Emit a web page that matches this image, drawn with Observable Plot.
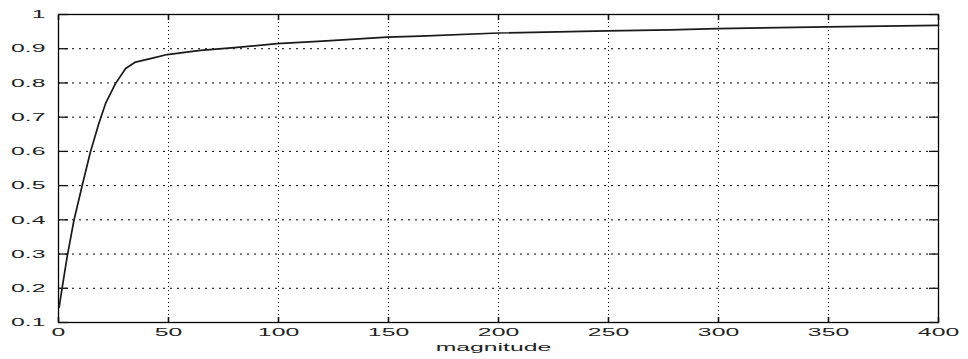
<!DOCTYPE html>
<html>
<head>
<meta charset="utf-8">
<script src="https://cdn.jsdelivr.net/npm/d3@7"></script>
<script src="https://cdn.jsdelivr.net/npm/@observablehq/plot@0.6"></script>
<style>
  html, body { margin: 0; padding: 0; background: #fff; }
  svg { display: block; }
</style>
</head>
<body>
<div id="chart"></div>
<script>
const magnitude = [0.3, 1.7, 3.9, 7, 10.8, 14.5, 18.3, 21.4, 25.9, 30.5, 35, 41.8, 49.4, 64.5, 80, 99.4, 120, 149.4, 164.5, 200, 249.4, 278, 299.4, 349.4, 400];
const value = [0.145, 0.203, 0.291, 0.398, 0.501, 0.598, 0.681, 0.74, 0.798, 0.842, 0.861, 0.871, 0.883, 0.895, 0.903, 0.915, 0.922, 0.934, 0.937, 0.946, 0.952, 0.955, 0.959, 0.964, 0.968];
const xTicks = [0, 50, 100, 150, 200, 250, 300, 350, 400];
const yTicks = [0.1, 0.2, 0.3, 0.4, 0.5, 0.6, 0.7, 0.8, 0.9, 1];
const xGrid = [50, 100, 150, 200, 250, 300, 350];
const yGrid = [0.2, 0.3, 0.4, 0.5, 0.6, 0.7, 0.8, 0.9];
const xLabel = "magnitude";

const data = magnitude.map((m, i) => ({m, v: value[i]}));
const yFmt = d => d === 1 ? "1" : d.toFixed(1);

const chart = Plot.plot({
  width: 968,
  height: 359,
  marginLeft: 58,
  marginRight: 30,
  marginTop: 14,
  marginBottom: 37,
  style: {fontFamily: "'Liberation Sans', Arial, sans-serif", fontSize: "11.5px", color: "#111", background: "#fff"},
  x: {domain: [0, 400]},
  y: {domain: [0.1, 1]},
  marks: [
    Plot.ruleY(yGrid, {y: d => d, stroke: "#000", strokeWidth: 1, strokeDasharray: "2,5"}),
    Plot.ruleX(xGrid, {x: d => d, stroke: "#000", strokeWidth: 1, strokeDasharray: "1,3"}),
    Plot.frame({stroke: "#000", strokeWidth: 1.3}),
    // inward ticks on all four sides
    Plot.axisX(xTicks, {anchor: "bottom", tickSize: -5, tickFormat: () => "", label: null, strokeWidth: 1.6}),
    Plot.axisX(xTicks, {anchor: "top", tickSize: -5, tickFormat: () => "", label: null, strokeWidth: 1.6}),
    Plot.axisY(yTicks, {anchor: "left", tickSize: -10, tickFormat: () => "", label: null, strokeWidth: 1.3}),
    Plot.axisY(yTicks, {anchor: "right", tickSize: -10, tickFormat: () => "", label: null, strokeWidth: 1.3}),
    // tick labels
    Plot.axisX(xTicks, {anchor: "bottom", tickSize: 0, tickPadding: 5, label: null, fill: "#222"}),
    Plot.axisY(yTicks, {anchor: "left", tickSize: 0, tickPadding: 13, tickFormat: yFmt, label: null, fill: "#222"}),
    Plot.line(data, {x: "m", y: "v", stroke: "#1a1a1a", strokeWidth: 1.7}),
    Plot.text([xLabel], {text: d => d, frameAnchor: "bottom", dy: 28, fill: "#222", dx: -5})
  ]
});
document.getElementById("chart").append(chart);

// emulate the horizontally wide glyphs of the reference
chart.querySelectorAll("text").forEach(t => {
  const w = t.getComputedTextLength();
  if (w > 0) {
    t.setAttribute("textLength", (w * 2.15).toFixed(1));
    t.setAttribute("lengthAdjust", "spacingAndGlyphs");
  }
});
</script>
</body>
</html>
